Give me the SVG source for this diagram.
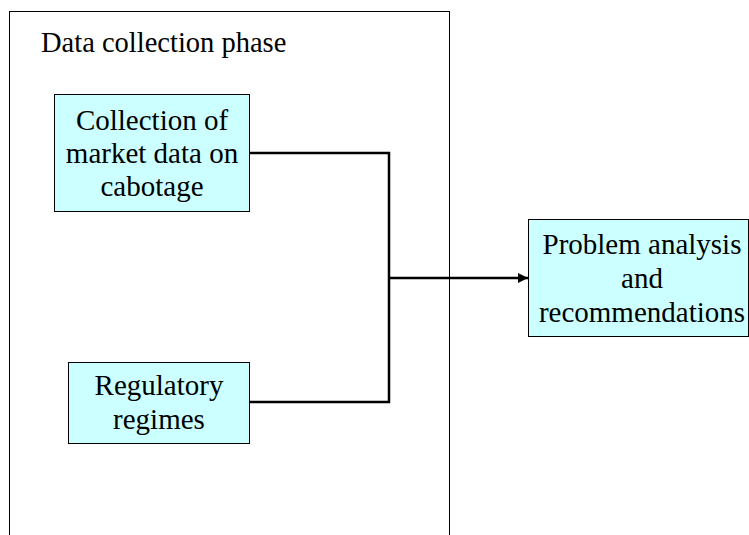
<svg xmlns="http://www.w3.org/2000/svg" width="749" height="535" viewBox="0 0 749 535">
<style>
.box{fill:#ccffff;stroke:#000;stroke-width:1}
.t{font-family:"Liberation Serif","Times New Roman",serif;font-size:29px;fill:#000}
.title{font-size:28.5px}
.c{text-anchor:middle}
.conn{fill:none;stroke:#000;stroke-width:2.5}
</style>
<defs>
<marker id="arr" viewBox="0 0 10 10" refX="10" refY="5" markerWidth="11" markerHeight="10" markerUnits="userSpaceOnUse" orient="auto">
<path d="M0,0 L10,5 L0,10 Z" fill="#000"/>
</marker>
</defs>
<rect width="749" height="535" fill="#fff"/>
<g id="phase">
<rect x="9.5" y="11.5" width="440" height="540" fill="#fff" stroke="#000" stroke-width="1"/>
<text class="t title" x="41" y="52">Data collection phase</text>
</g>
<g id="connectors">
<polyline class="conn" points="250,153 389,153 389,402 250,402"/>
<line class="conn" x1="389" y1="278" x2="528" y2="278" marker-end="url(#arr)"/>
</g>
<g id="market">
<rect class="box" x="54.5" y="94.5" width="195" height="117"/>
<text class="t c" x="152" y="130">Collection of</text>
<text class="t c" x="152" y="163">market data on</text>
<text class="t c" x="152" y="196">cabotage</text>
</g>
<g id="regulatory">
<rect class="box" x="68.5" y="362.5" width="181" height="81"/>
<text class="t c" x="159" y="395">Regulatory</text>
<text class="t c" x="159" y="429">regimes</text>
</g>
<g id="analysis">
<rect class="box" x="528.5" y="219.5" width="220" height="117"/>
<text class="t c" x="642" y="254">Problem analysis</text>
<text class="t c" x="642" y="288">and</text>
<text class="t c" x="642" y="322">recommendations</text>
</g>
</svg>
